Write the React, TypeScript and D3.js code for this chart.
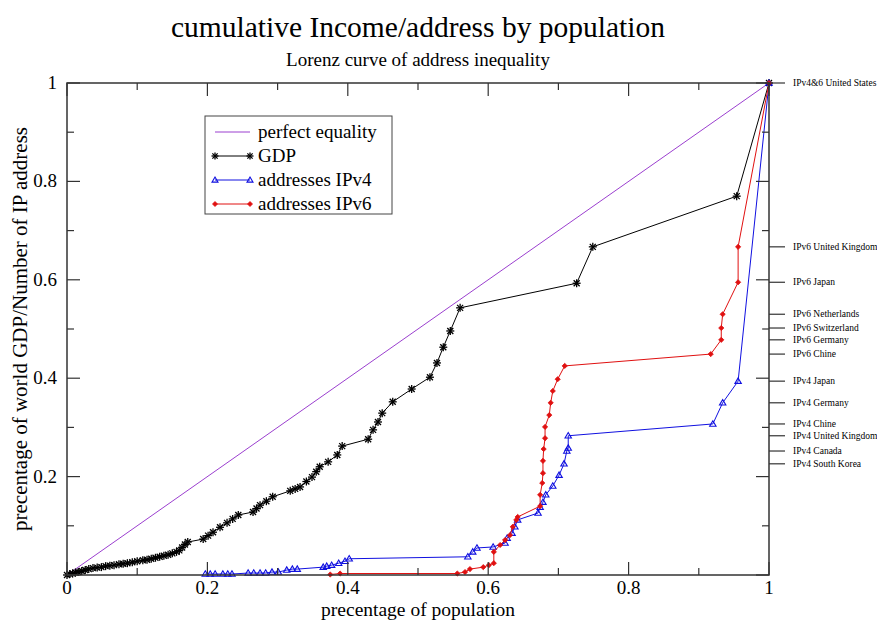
import React from 'react';
import * as d3 from 'd3';

// cumulative share of population (x) vs share of GDP / addresses (y)
const gdpPop = [
  0, 0.004, 0.008, 0.012, 0.016, 0.021, 0.026, 0.031, 0.037, 0.043, 0.049, 0.055, 0.061, 0.067, 0.074,
  0.08, 0.086, 0.093, 0.1, 0.108, 0.114, 0.12, 0.126, 0.132, 0.138, 0.144, 0.15, 0.156, 0.16, 0.164,
  0.168, 0.172, 0.194, 0.201, 0.208, 0.218, 0.228, 0.236, 0.244, 0.265, 0.27, 0.275, 0.284, 0.293,
  0.318, 0.325, 0.332, 0.341, 0.349, 0.355, 0.36, 0.372, 0.385, 0.392, 0.429, 0.436, 0.443, 0.449,
  0.464, 0.491, 0.517, 0.527, 0.536, 0.546, 0.56, 0.726, 0.749, 0.954, 1,
];
const gdpShare = [
  0, 0.002, 0.003, 0.005, 0.006, 0.008, 0.01, 0.012, 0.014, 0.015, 0.016, 0.018, 0.019, 0.02, 0.022,
  0.023, 0.024, 0.026, 0.028, 0.03, 0.031, 0.033, 0.035, 0.037, 0.039, 0.041, 0.044, 0.047, 0.05, 0.056,
  0.062, 0.067, 0.073, 0.08, 0.087, 0.097, 0.106, 0.114, 0.122, 0.128, 0.135, 0.142, 0.15, 0.159,
  0.171, 0.175, 0.179, 0.19, 0.199, 0.21, 0.22, 0.23, 0.244, 0.262, 0.276, 0.295, 0.311, 0.329,
  0.352, 0.378, 0.402, 0.431, 0.463, 0.496, 0.543, 0.593, 0.667, 0.77, 1,
];

const v4Pop = [
  0.197, 0.204, 0.211, 0.222, 0.229, 0.235, 0.258, 0.266, 0.275, 0.283, 0.292, 0.301, 0.313, 0.321,
  0.328, 0.365, 0.37, 0.377, 0.387, 0.396, 0.402, 0.571, 0.578, 0.584, 0.607, 0.624, 0.627, 0.634,
  0.638, 0.642, 0.671, 0.674, 0.678, 0.682, 0.692, 0.701, 0.708, 0.712, 0.714, 0.714, 0.92, 0.934,
  0.956, 1,
];
const v4Share = [
  0.002, 0.002, 0.002, 0.002, 0.002, 0.002, 0.004, 0.004, 0.004, 0.004, 0.006, 0.006, 0.01, 0.012,
  0.012, 0.016, 0.018, 0.02, 0.024, 0.028, 0.033, 0.037, 0.047, 0.055, 0.057, 0.065, 0.075, 0.085,
  0.098, 0.112, 0.126, 0.138, 0.148, 0.163, 0.181, 0.203, 0.226, 0.252, 0.258, 0.283, 0.307, 0.35,
  0.394, 1,
];

const v6Pop = [
  0.375, 0.389, 0.556, 0.567, 0.574, 0.593, 0.601, 0.608, 0.608, 0.617, 0.624, 0.631, 0.635, 0.64,
  0.642, 0.674, 0.674, 0.677, 0.678, 0.678, 0.679, 0.681, 0.681, 0.687, 0.689, 0.692, 0.699, 0.709,
  0.917, 0.932, 0.932, 0.934, 0.956, 0.956, 1,
];
const v6Share = [
  0.001, 0.003, 0.003, 0.006, 0.012, 0.016, 0.02, 0.024, 0.047, 0.061, 0.071, 0.081, 0.098, 0.112,
  0.118, 0.14, 0.163, 0.187, 0.207, 0.232, 0.256, 0.278, 0.301, 0.325, 0.35, 0.374, 0.398, 0.425,
  0.449, 0.478, 0.502, 0.53, 0.595, 0.667, 1,
];

// country labels on the right edge
const countryLabels = [
  'IPv4&6 United States', 'IPv6 United Kingdom', 'IPv6 Japan', 'IPv6 Netherlands',
  'IPv6 Switzerland', 'IPv6 Germany', 'IPv6 Chine', 'IPv4 Japan', 'IPv4 Germany',
  'IPv4 Chine', 'IPv4 United Kingdom', 'IPv4 Canada', 'IPv4 South Korea',
];
const countryValues = [1, 0.667, 0.595, 0.53, 0.502, 0.478, 0.449, 0.394, 0.35, 0.307, 0.283, 0.252, 0.226];

const majorTicks = [0, 0.2, 0.4, 0.6, 0.8, 1];
const minorTicks = [0.1, 0.3, 0.5, 0.7, 0.9];

const legendItems = ['perfect equality', 'GDP', 'addresses IPv4', 'addresses IPv6'];

export default function App() {
  const width = 877;
  const height = 621;
  const font = "'Liberation Serif', 'DejaVu Serif', serif";
  const axisColor = '#333';

  const x = d3.scaleLinear().domain([0, 1]).range([67, 769]);
  const y = d3.scaleLinear().domain([0, 1]).range([575, 83]);

  const line = d3
    .line<[number, number]>()
    .x((d) => x(d[0]))
    .y((d) => y(d[1]));

  const gdp = gdpPop.map((p, i) => [p, gdpShare[i]] as [number, number]);
  const v4 = v4Pop.map((p, i) => [p, v4Share[i]] as [number, number]);
  const v6 = v6Pop.map((p, i) => [p, v6Share[i]] as [number, number]);

  const star = (cx: number, cy: number, r: number, key: any) => (
    <g key={key} stroke="#000" strokeWidth={1.3}>
      <line x1={cx - r} y1={cy} x2={cx + r} y2={cy} />
      <line x1={cx} y1={cy - r} x2={cx} y2={cy + r} />
      <line x1={cx - r * 0.75} y1={cy - r * 0.75} x2={cx + r * 0.75} y2={cy + r * 0.75} />
      <line x1={cx - r * 0.75} y1={cy + r * 0.75} x2={cx + r * 0.75} y2={cy - r * 0.75} />
    </g>
  );
  const tri = (cx: number, cy: number, r: number, key: any) => (
    <path
      key={key}
      d={`M${cx},${cy - r}L${cx + r},${cy + r * 0.7}L${cx - r},${cy + r * 0.7}Z`}
      fill="none"
      stroke="#1010e0"
      strokeWidth={1.1}
    />
  );
  const dia = (cx: number, cy: number, r: number, key: any) => (
    <path
      key={key}
      d={`M${cx},${cy - r}L${cx + r},${cy}L${cx},${cy + r}L${cx - r},${cy}Z`}
      fill="#e01010"
      stroke="#e01010"
      strokeWidth={0.8}
    />
  );

  const legendX = 205;
  const legendY = 116;

  return (
    <>
      <style>{`body{margin:0;background:#fff} svg text{font-family:${font}}`}</style>
      <svg width={width} height={height} style={{ display: 'block' }} fontFamily={font}>
        <rect width={width} height={height} fill="#fff" />

        {/* titles */}
        <text x={418} y={37} textAnchor="middle" fontSize={29.5}>
          cumulative Income/address by population
        </text>
        <text x={418} y={66} textAnchor="middle" fontSize={19}>
          Lorenz curve of address inequality
        </text>

        {/* perfect equality */}
        <line x1={x(0)} y1={y(0)} x2={x(1)} y2={y(1)} stroke="#9b3fcf" strokeWidth={1} />

        {/* GDP */}
        <path d={line(gdp) || ''} fill="none" stroke="#000" strokeWidth={1} />
        {gdp.map((d, i) => star(x(d[0]), y(d[1]), 4, 'g' + i))}

        {/* IPv4 */}
        <path d={line(v4) || ''} fill="none" stroke="#1010e0" strokeWidth={1} />
        {v4.map((d, i) => tri(x(d[0]), y(d[1]), 3.2, 'b' + i))}

        {/* IPv6 */}
        <path d={line(v6) || ''} fill="none" stroke="#e01010" strokeWidth={1} />
        {v6.map((d, i) => dia(x(d[0]), y(d[1]), 2.6, 'r' + i))}

        {/* frame */}
        <rect x={x(0)} y={y(1)} width={x(1) - x(0)} height={y(0) - y(1)} fill="none" stroke={axisColor} strokeWidth={1.5} />

        {/* ticks, mirrored on all four sides */}
        {majorTicks.map((t) => (
          <g key={'M' + t} stroke={axisColor} strokeWidth={1.2}>
            <line x1={x(t)} y1={y(0)} x2={x(t)} y2={y(0) - 13} />
            <line x1={x(t)} y1={y(1)} x2={x(t)} y2={y(1) + 13} />
            <line x1={x(0)} y1={y(t)} x2={x(0) + 13} y2={y(t)} />
            <line x1={x(1)} y1={y(t)} x2={x(1) - 13} y2={y(t)} />
          </g>
        ))}
        {minorTicks.map((t) => (
          <g key={'m' + t} stroke={axisColor} strokeWidth={1.2}>
            <line x1={x(t)} y1={y(0)} x2={x(t)} y2={y(0) - 7} />
            <line x1={x(t)} y1={y(1)} x2={x(t)} y2={y(1) + 7} />
            <line x1={x(0)} y1={y(t)} x2={x(0) + 7} y2={y(t)} />
            <line x1={x(1)} y1={y(t)} x2={x(1) - 7} y2={y(t)} />
          </g>
        ))}

        {/* tick labels */}
        {majorTicks.map((t) => (
          <text key={'xl' + t} x={x(t)} y={y(0) + 19} textAnchor="middle" fontSize={19}>
            {d3.format('~g')(t)}
          </text>
        ))}
        {majorTicks
          .filter((t) => t > 0)
          .map((t) => (
            <text key={'yl' + t} x={x(0) - 10} y={y(t) + 6} textAnchor="end" fontSize={19}>
              {d3.format('~g')(t)}
            </text>
          ))}

        {/* axis titles */}
        <text x={418} y={616} textAnchor="middle" fontSize={19.5}>
          precentage of population
        </text>
        <text transform={`translate(27,${(y(0) + y(1)) / 2}) rotate(-90)`} textAnchor="middle" fontSize={21}>
          precentage of world GDP/Number of IP address
        </text>

        {/* right-hand country labels */}
        {countryValues.map((v, i) => (
          <g key={'c' + i}>
            <line x1={x(1)} y1={y(v)} x2={x(1) + 16} y2={y(v)} stroke={axisColor} strokeWidth={1.2} />
            <text x={x(1) + 24} y={y(v) + 3} fontSize={9.5}>
              {countryLabels[i]}
            </text>
          </g>
        ))}

        {/* legend */}
        <rect x={legendX} y={legendY} width={187} height={98} fill="#fff" stroke="#444" strokeWidth={1} />
        {legendItems.map((name, i) => {
          const ly = legendY + 16 + i * 24;
          const x1 = legendX + 10;
          const x2 = legendX + 45;
          const colors = ['#9b3fcf', '#000', '#1010e0', '#e01010'];
          return (
            <g key={'lg' + i}>
              <line x1={x1} y1={ly} x2={x2} y2={ly} stroke={colors[i]} strokeWidth={1} />
              {i === 1 && [star(x1, ly, 3.5, 's1'), star(x2, ly, 3.5, 's2')]}
              {i === 2 && [tri(x1, ly, 3, 't1'), tri(x2, ly, 3, 't2')]}
              {i === 3 && [dia(x1, ly, 2.5, 'd1'), dia(x2, ly, 2.5, 'd2')]}
              <text x={legendX + 53} y={ly + 6} fontSize={19}>
                {name}
              </text>
            </g>
          );
        })}
      </svg>
    </>
  );
}
